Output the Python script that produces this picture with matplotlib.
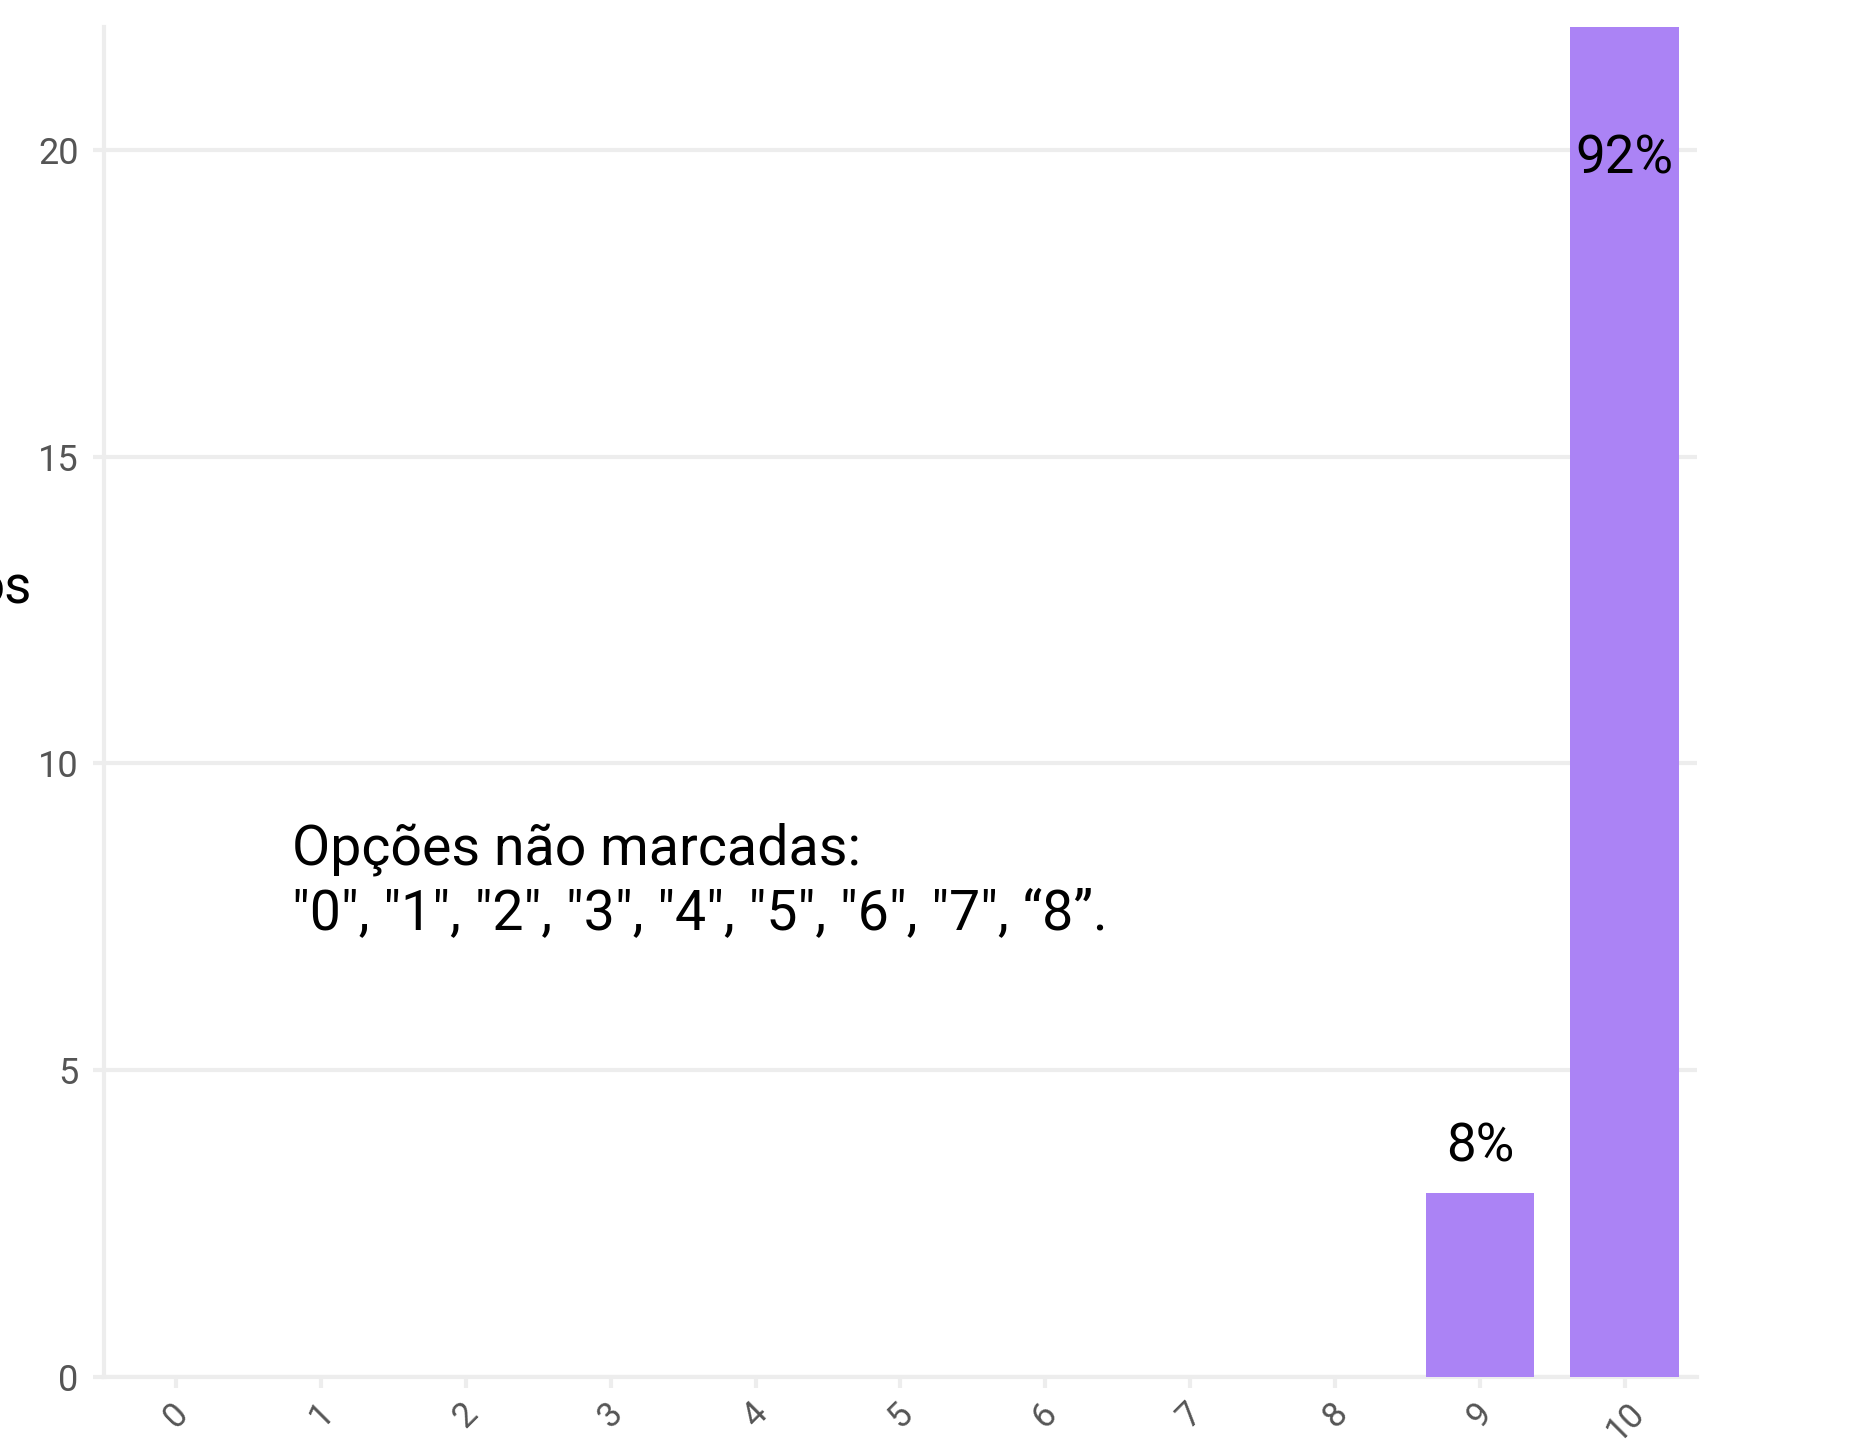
import matplotlib.pyplot as plt
import numpy as np

# dados
notas = ['0', '1', '2', '3', '4', '5', '6', '7', '8', '9', '10']
respostas = [0, 0, 0, 0, 0, 0, 0, 0, 0, 3, 22]
percentuais = ['', '', '', '', '', '', '', '', '', '8%', '92%']
yticks = [0, 5, 10, 15, 20]

plt.rcParams['font.family'] = ['Roboto', 'DejaVu Sans']

fig = plt.figure(figsize=(18.65, 14.5), dpi=100)
ax = fig.add_axes([0.0556, 0.0503, 0.8544, 0.9311])

x = np.arange(len(notas))
cor = '#ab83f5'
bars = ax.bar(x, respostas, width=0.75, color=cor, zorder=3)

ax.set_xlim(-0.5, 10.5)
ax.set_ylim(0, 22)
ax.set_yticks(yticks)
ax.set_xticks(x)
ax.set_xticklabels(notas, rotation=45, ha='center', va='top')

ax.grid(axis='y', color='#ededed', linewidth=3, zorder=0)
for s in ['top', 'right']:
    ax.spines[s].set_visible(False)
ax.spines['left'].set_color('#ededed')
ax.spines['left'].set_linewidth(3)
ax.spines['bottom'].set_color('#ededed')
ax.spines['bottom'].set_linewidth(3)
ax.tick_params(axis='y', length=8, width=3, color='#ededed', labelsize=26,
               labelcolor='#555555', pad=10)
ax.tick_params(axis='x', length=8, width=3, color='#ededed', labelsize=25,
               labelcolor='#555555', pad=6)

# rotulos de percentual
for i, p in enumerate(percentuais):
    if p == '':
        continue
    if respostas[i] > 20:
        ax.text(x[i], 19.85, p, ha='center', va='center', fontsize=38, color='black', zorder=4)
    else:
        ax.text(x[i], respostas[i] + 0.75, p, ha='center', va='center', fontsize=38,
                color='black', zorder=4)

ax.text(0.8, 8.07, 'Opções não marcadas:\n"0", "1", "2", "3", "4", "5", "6", "7", “8”.',
        ha='left', va='center', fontsize=40, color='black', linespacing=1.27)

fig.text(0.017, 0.594, 'os', ha='right', va='center', fontsize=38, color='black')

fig.savefig('out.png', dpi=100, facecolor='white')
